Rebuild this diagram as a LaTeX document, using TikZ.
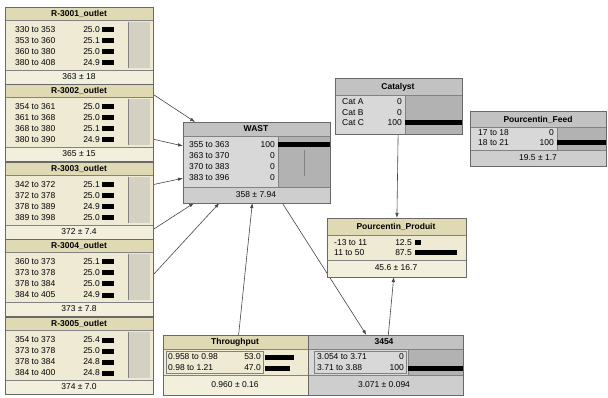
\documentclass[tikz,border=0pt]{standalone}
\usepackage{fontspec}
\setmainfont{Liberation Sans}
\usetikzlibrary{arrows.meta,calc}
\definecolor{beigeT}{RGB}{224,218,180}
\definecolor{beigeR}{RGB}{238,234,212}
\definecolor{beigeF}{RGB}{242,239,220}
\definecolor{grayZ}{RGB}{212,209,194}
\definecolor{grayT}{RGB}{194,194,194}
\definecolor{grayR}{RGB}{216,216,216}
\definecolor{grayBar}{RGB}{178,178,178}
\definecolor{grayF}{RGB}{206,206,206}
\definecolor{borderc}{RGB}{105,105,105}
\definecolor{sepc}{RGB}{130,130,130}
\definecolor{linkc}{RGB}{70,70,70}
\newcommand\rbox[4]{%
  \fill[beigeT] (5,#1) rectangle (153,#1+13);
  \fill[beigeR] (5,#1+13) rectangle (153,#1+63);
  \fill[grayZ] (128,#1+15) rectangle (150,#1+61);
  \draw[sepc,line width=0.4pt] (128,#1+15) -- (128,#1+61);
  \fill[beigeF] (5,#1+63) rectangle (153,#1+77);
  \draw[sepc,line width=0.6pt] (5,#1+13) -- (153,#1+13) (5,#1+63) -- (153,#1+63);
  \draw[frame] (5,#1) rectangle (153,#1+77);
  \node[ttl] at (79,#1+7) {#2};
  \foreach \lab/\val [count=\i] in {#4} {
    \pgfmathsetmacro\yy{#1+12+11*\i}
    \node[txt,anchor=west] at (15,\yy) {\lab};
    \node[txt,anchor=east] at (100,\yy) {\val};
    \fill (102,\yy-2.5) rectangle ++(\val*0.48,5);
  }
  \node[txt] at (79,#1+70) {#3};
}
\begin{document}
\begin{tikzpicture}[x=1pt,y=-1pt,
  nbox/.style={rectangle,inner sep=0pt,outer sep=0pt},
  txt/.style={inner sep=0pt,font=\fontsize{8.5}{9}\selectfont},
  ttl/.style={inner sep=0pt,font=\fontsize{8.5}{9}\selectfont\bfseries},
  link/.style={draw=linkc,line width=0.6pt,-{Latex[length=5pt,width=3.5pt]}},
  frame/.style={draw=borderc,line width=0.7pt},
  sepl/.style={draw=sepc,line width=0.6pt}]
\useasboundingbox[fill=white] (0,0) rectangle (608,398);
% node outlines (named)
\node[nbox,minimum width=148pt,minimum height=77pt] (r1) at (79,45.5) {};
\node[nbox,minimum width=148pt,minimum height=77pt] (r2) at (79,122.5) {};
\node[nbox,minimum width=148pt,minimum height=77pt] (r3) at (79,200.5) {};
\node[nbox,minimum width=148pt,minimum height=77pt] (r4) at (79,277.5) {};
\node[nbox,minimum width=148pt,minimum height=77pt] (r5) at (79,355.5) {};
\node[nbox,minimum width=147pt,minimum height=81pt] (wast) at (256.5,162.5) {};
\node[nbox,minimum width=127pt,minimum height=56pt] (cat) at (398.5,106) {};
\node[nbox,minimum width=136pt,minimum height=55pt] (pfeed) at (538,138.5) {};
\node[nbox,minimum width=139pt,minimum height=59pt] (pprod) at (396.5,247.5) {};
\node[nbox,minimum width=145pt,minimum height=60pt] (thr) at (235.5,365) {};
\node[nbox,minimum width=155pt,minimum height=60pt] (n3454) at (385.5,365) {};
% connectors
\foreach \r in {r1,r2,r3,r4,r5} \draw[link] (\r) -- (wast);
\draw[link] (thr) -- (wast);
\draw[link] (wast) -- (n3454);
\draw[link] (cat) -- (pprod);
\draw[link] (n3454) -- (pprod);
% left column
\rbox{7}{R-3001\_outlet}{363 ± 18}{330 to 353/25.0,353 to 360/25.1,360 to 380/25.0,380 to 408/24.9}
\rbox{84}{R-3002\_outlet}{365 ± 15}{354 to 361/25.0,361 to 368/25.0,368 to 380/25.1,380 to 390/24.9}
\rbox{162}{R-3003\_outlet}{372 ± 7.4}{342 to 372/25.1,372 to 378/25.0,378 to 389/24.9,389 to 398/25.0}
\rbox{239}{R-3004\_outlet}{373 ± 7.8}{360 to 373/25.1,373 to 378/25.0,378 to 384/25.0,384 to 405/24.9}
\rbox{317}{R-3005\_outlet}{374 ± 7.0}{354 to 373/25.4,373 to 378/25.0,378 to 384/24.8,384 to 400/24.8}
% WAST
\fill[grayT] (183,122) rectangle (330,136);
\fill[grayR] (183,136) rectangle (278,187);
\fill[grayBar] (278,136) rectangle (330,187);
\fill[grayF] (183,187) rectangle (330,203);
\draw[sepl] (183,136) -- (330,136) (183,187) -- (330,187) (278,136) -- (278,187);
\draw[sepc,line width=0.4pt] (304,150) -- (304,176);
\draw[frame] (183,122) rectangle (330,203);
\node[ttl] at (256,129) {WAST};
\foreach \lab/\val [count=\i] in {355 to 363/100,363 to 370/0,370 to 383/0,383 to 396/0} {
  \pgfmathsetmacro\yy{134+11*\i}
  \node[txt,anchor=west] at (189,\yy) {\lab};
  \node[txt,anchor=east] at (275,\yy) {\val};
}
\fill (278,142.5) rectangle (330,147.5);
\node[txt] at (256,195) {358 ± 7.94};
% Catalyst
\fill[grayT] (335,78) rectangle (462,95);
\fill[grayR] (335,95) rectangle (405,134);
\fill[grayBar] (405,95) rectangle (462,134);
\draw[sepl] (335,95) -- (462,95) (405,95) -- (405,134);
\draw[frame] (335,78) rectangle (462,134);
\node[ttl] at (398,87) {Catalyst};
\foreach \lab/\val/\yy in {Cat A/0/102,Cat B/0/112.5,Cat C/100/123} {
  \node[txt,anchor=west] at (342,\yy) {\lab};
  \node[txt,anchor=east] at (402,\yy) {\val};
}
\fill (405,120.5) rectangle (462,125.5);
% Pourcentin_Feed
\fill[grayT] (470,111) rectangle (606,127);
\fill[grayR] (470,127) rectangle (557,150);
\fill[grayBar] (557,127) rectangle (606,150);
\fill[grayF] (470,150) rectangle (606,166);
\draw[sepl] (470,127) -- (606,127) (470,150) -- (606,150) (557,127) -- (557,150);
\draw[frame] (470,111) rectangle (606,166);
\node[ttl] at (538,120) {Pourcentin\_Feed};
\node[txt,anchor=west] at (478,133) {17 to 18};
\node[txt,anchor=east] at (554,133) {0};
\node[txt,anchor=west] at (478,143) {18 to 21};
\node[txt,anchor=east] at (554,143) {100};
\fill (557,140.5) rectangle (606,145.5);
\node[txt] at (538,158) {19.5 ± 1.7};
% Pourcentin_Produit
\fill[beigeT] (327,218) rectangle (466,235);
\fill[beigeR] (327,235) rectangle (466,260);
\fill[beigeF] (327,260) rectangle (466,277);
\draw[sepl] (327,235) -- (466,235) (327,260) -- (466,260);
\draw[frame] (327,218) rectangle (466,277);
\node[ttl] at (396,227) {Pourcentin\_Produit};
\node[txt,anchor=west] at (334,243) {-13 to 11};
\node[txt,anchor=east] at (412,243) {12.5};
\node[txt,anchor=west] at (334,253) {11 to 50};
\node[txt,anchor=east] at (412,253) {87.5};
\fill (415,240.5) rectangle ++(5.5,5);
\fill (415,250.5) rectangle ++(42,5);
\node[txt] at (396,268) {45.6 ± 16.7};
% Throughput
\fill[beigeT] (163,335) rectangle (308,349);
\fill[beigeR] (163,349) rectangle (308,375);
\fill[beigeF] (163,375) rectangle (308,395);
\draw[sepl] (163,349) -- (308,349) (163,375) -- (308,375);
\draw[sepc,line width=0.4pt] (166,351) rectangle (263,373);
\draw[frame] (163,335) rectangle (308,395);
\node[ttl] at (235,342) {Throughput};
\node[txt,anchor=west] at (168,357) {0.958 to 0.98};
\node[txt,anchor=east] at (261,357) {53.0};
\node[txt,anchor=west] at (168,368) {0.98 to 1.21};
\node[txt,anchor=east] at (261,368) {47.0};
\fill (265,354.5) rectangle ++(29,5);
\fill (265,365.5) rectangle ++(25,5);
\node[txt] at (235,385) {0.960 ± 0.16};
% 3454
\fill[grayT] (308,335) rectangle (463,349);
\fill[grayR] (308,349) rectangle (408,375);
\fill[grayBar] (408,349) rectangle (463,375);
\fill[grayF] (308,375) rectangle (463,395);
\draw[sepl] (308,349) -- (463,349) (308,375) -- (463,375) (408,349) -- (408,375);
\draw[sepc,line width=0.4pt] (314,351) rectangle (406,373);
\draw[frame] (308,335) rectangle (463,395);
\node[ttl] at (384,342) {3454};
\node[txt,anchor=west] at (317,357) {3.054 to 3.71};
\node[txt,anchor=east] at (404,357) {0};
\node[txt,anchor=west] at (317,368) {3.71 to 3.88};
\node[txt,anchor=east] at (404,368) {100};
\fill (408,365.5) rectangle (463,370.5);
\node[txt] at (384,385) {3.071 ± 0.094};
\end{tikzpicture}
\end{document}
